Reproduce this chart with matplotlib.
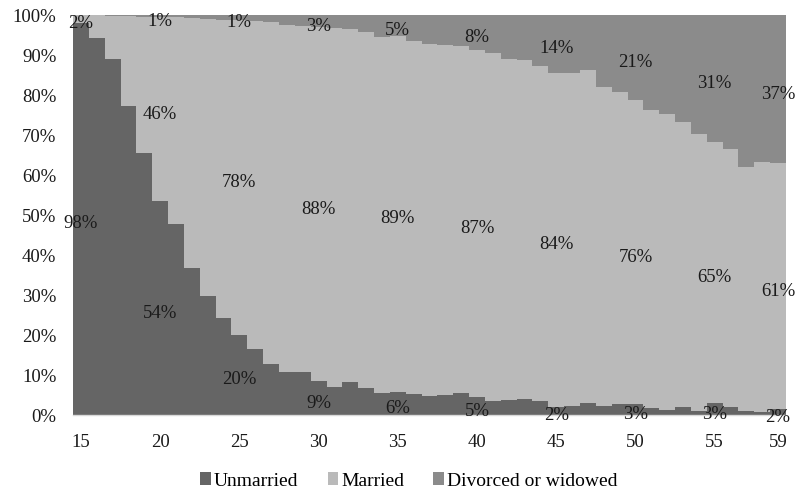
import matplotlib
matplotlib.use("Agg")
import matplotlib.pyplot as plt
from matplotlib.patches import Patch
from matplotlib.transforms import offset_copy
import numpy as np

ages = list(range(15, 60))

unmarried = [98.0, 94.2, 88.9, 77.3, 65.4, 53.5, 47.8, 36.7, 29.8, 24.2,
             20.0, 16.5, 12.8, 10.7, 10.7, 8.5, 7.1, 8.2, 6.8, 5.6,
             5.8, 5.2, 4.8, 5.0, 5.4, 4.4, 3.5, 3.7, 4.0, 3.5,
             2.0, 2.3, 2.9, 2.3, 2.7, 2.7, 1.7, 1.3, 2.1, 1.1,
             2.9, 2.0, 1.0, 0.8, 1.5]
married = [2.0, 5.7, 10.9, 22.4, 34.2, 45.9, 51.6, 62.5, 69.3, 74.6,
           78.7, 82.0, 85.4, 86.8, 86.6, 88.4, 89.6, 88.3, 89.0, 89.0,
           89.0, 88.4, 87.9, 87.5, 86.9, 86.8, 86.9, 85.2, 84.7, 83.7,
           83.6, 83.3, 83.3, 79.8, 78.1, 76.0, 74.5, 73.9, 71.2, 69.1,
           65.4, 64.5, 61.1, 62.4, 61.4]
divorced = [0.0, 0.1, 0.2, 0.3, 0.4, 0.6, 0.6, 0.8, 0.9, 1.2,
            1.3, 1.5, 1.8, 2.5, 2.7, 3.1, 3.3, 3.5, 4.2, 5.4,
            5.2, 6.4, 7.3, 7.5, 7.7, 8.8, 9.6, 11.1, 11.3, 12.8,
            14.4, 14.4, 13.8, 17.9, 19.2, 21.3, 23.8, 24.8, 26.7, 29.8,
            31.7, 33.5, 37.9, 36.8, 37.1]

label_ages = [15, 20, 25, 30, 35, 40, 45, 50, 55, 59]
label_unmarried = [98, 54, 20, 9, 6, 5, 2, 3, 3, 2]
label_married = [2, 46, 78, 88, 89, 87, 84, 76, 65, 61]
label_divorced = [None, 1, 1, 3, 5, 8, 14, 21, 31, 37]

series_names = ["Unmarried", "Married", "Divorced or widowed"]
colors = ["#656565", "#bababa", "#8b8b8b"]

plt.rcParams['font.family'] = ['Liberation Serif', 'DejaVu Serif']

fig = plt.figure(figsize=(7.96, 4.93), dpi=100)
ax = fig.add_axes([73/796, 1-415/493, (786-73)/796, 400/493])

x = np.array(ages)
u = np.array(unmarried)
m = np.array(married)
d = np.array(divorced)
ax.bar(x, u, width=1.0, color=colors[0], linewidth=0)
ax.bar(x, m, width=1.0, bottom=u, color=colors[1], linewidth=0)
ax.bar(x, d, width=1.0, bottom=u + m, color=colors[2], linewidth=0)

tr = offset_copy(ax.transData, fig=fig, x=0, y=-3, units='dots')
for i, a in enumerate(label_ages):
    k = ages.index(a)
    ax.text(a, u[k] / 2, f"{label_unmarried[i]}%", ha='center', va='center_baseline',
            fontsize=13.5, color='#1a1a1a', transform=tr)
    ax.text(a, u[k] + m[k] / 2, f"{label_married[i]}%", ha='center', va='center_baseline',
            fontsize=13.5, color='#1a1a1a', transform=tr)
    if label_divorced[i] is not None:
        ax.text(a, u[k] + m[k] + d[k] / 2, f"{label_divorced[i]}%", ha='center',
                va='center_baseline', fontsize=13.5, color='#1a1a1a', transform=tr)

ax.set_xlim(14.5, 59.5)
ax.set_ylim(0, 100)
ax.set_xticks(label_ages)
ax.set_xticklabels([str(a) for a in label_ages])
ax.set_yticks(range(0, 101, 10))
ax.set_yticklabels([f"{v}%" for v in range(0, 101, 10)])
ax.tick_params(axis='both', length=0, labelsize=13.5, colors='#1a1a1a')
ax.tick_params(axis='y', pad=12)
ax.tick_params(axis='x', pad=14)
for s in ['left', 'right', 'top']:
    ax.spines[s].set_visible(False)
ax.spines['bottom'].set_color('#d9d9d9')
ax.spines['bottom'].set_linewidth(1.0)

handles = [Patch(facecolor=c, edgecolor='none') for c in colors]
fig.legend(handles, series_names, loc='center', bbox_to_anchor=(409/796, 1-481/493),
           ncol=3, frameon=False, fontsize=14, handlelength=0.55, handleheight=0.6,
           handletextpad=0.15, columnspacing=1.5)

fig.savefig("out.png", dpi=100)
